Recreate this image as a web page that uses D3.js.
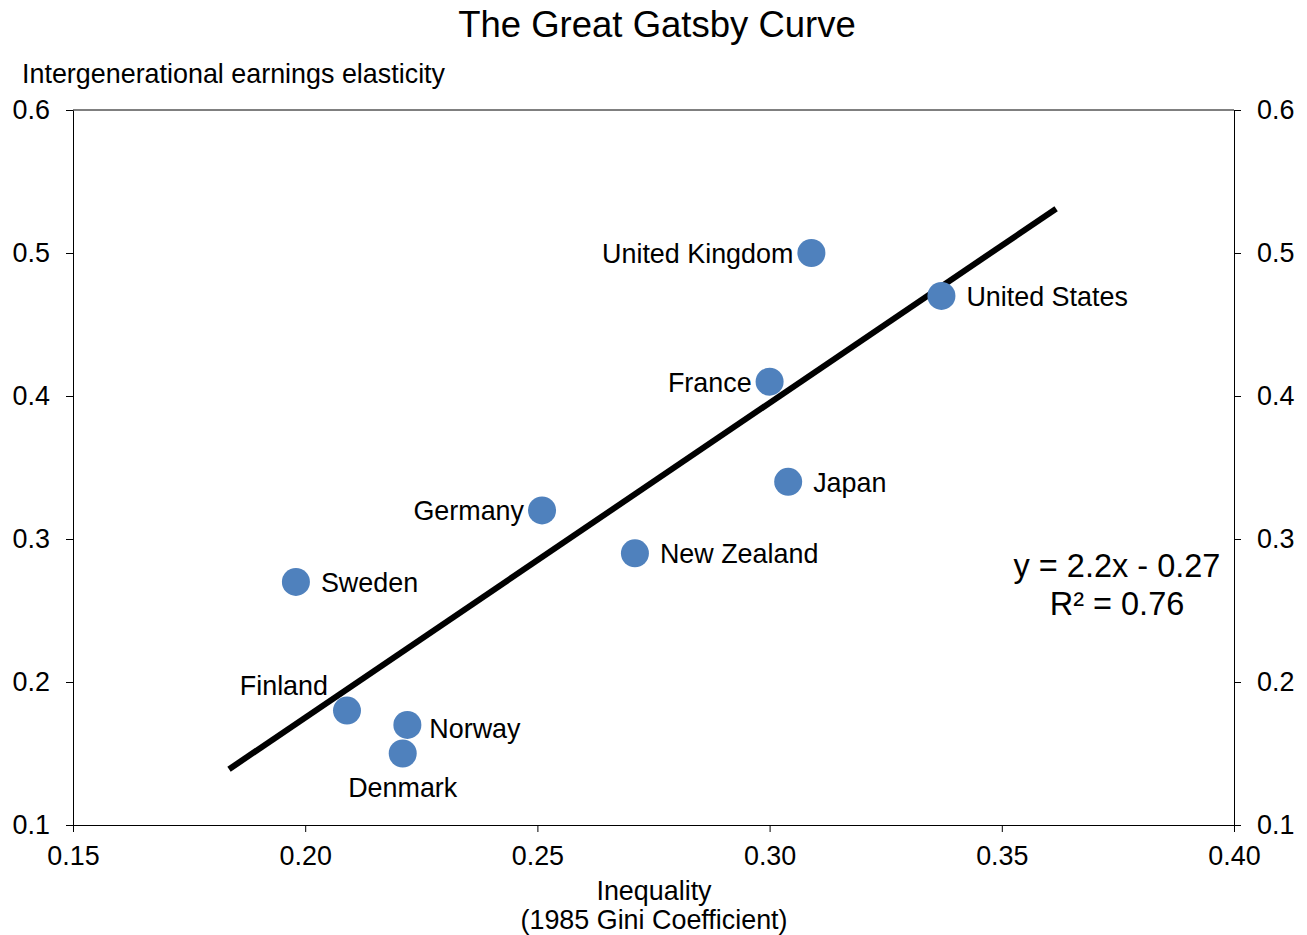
<!DOCTYPE html>
<html>
<head>
<meta charset="utf-8">
<script src="https://cdn.jsdelivr.net/npm/d3@7"></script>
<style>
  body { margin: 0; background: #fff; }
  svg text { font-family: "Liberation Sans", Arial, sans-serif; fill: #000; }
  .axis path, .axis line { stroke: #000; stroke-width: 1; }
</style>
</head>
<body>
<div id="chart"></div>
<script>
// Countries, Gini (x) and earnings elasticity (y)
var countries = ["United Kingdom", "United States", "France", "Japan", "Germany",
                 "New Zealand", "Sweden", "Finland", "Norway", "Denmark"];
var gini = [0.309, 0.337, 0.300, 0.304, 0.251, 0.271, 0.198, 0.209, 0.222, 0.221];
var elasticity = [0.50, 0.47, 0.41, 0.34, 0.32, 0.29, 0.27, 0.18, 0.17, 0.15];
// label placement: side of the marker
var labelSide = ["left", "right", "left", "right", "left", "right", "right", "upleft", "right", "below"];

// fitted line endpoints
var fitX = [0.1836, 0.3617];
var fitY = [0.139, 0.531];

var xTicks = [0.15, 0.20, 0.25, 0.30, 0.35, 0.40];
var yTicks = [0.1, 0.2, 0.3, 0.4, 0.5, 0.6];

var svg = d3.select("#chart").append("svg").attr("width", 1307).attr("height", 935),
    margin = {top: 110, right: 73, bottom: 110, left: 73},
    width = 1307 - margin.left - margin.right,
    height = 935 - margin.top - margin.bottom;

var x = d3.scaleLinear().domain([0.15, 0.40]).range([0, width]);
var y = d3.scaleLinear().domain([0.1, 0.6]).range([height, 0]);

var g = svg.append("g")
    .attr("transform", "translate(" + margin.left + "," + margin.top + ")");

svg.append("text")
    .attr("x", 657).attr("y", 37)
    .attr("text-anchor", "middle")
    .style("font-size", "36.5px")
    .text("The Great Gatsby Curve");

svg.append("text")
    .attr("x", 22).attr("y", 83)
    .style("font-size", "26.9px")
    .text("Intergenerational earnings elasticity");

// frame
g.append("line").attr("x1", 0).attr("x2", width).attr("y1", 0).attr("y2", 0)
    .attr("stroke", "#000").attr("stroke-width", 1);

g.append("g")
    .attr("class", "axis")
    .attr("transform", "translate(0," + height + ")")
    .call(d3.axisBottom(x).tickValues(xTicks).tickFormat(d3.format(".2f")).tickSize(7).tickSizeOuter(0))
    .call(function(a) { a.selectAll("text").style("font-size", "26.9px").attr("y", 16).attr("dy", "0.9em"); });

g.append("g")
    .attr("class", "axis")
    .call(d3.axisLeft(y).tickValues(yTicks).tickFormat(d3.format(".1f")).tickSize(7).tickSizeOuter(0))
    .call(function(a) { a.selectAll("text").style("font-size", "26.9px").attr("x", -23); });

g.append("g")
    .attr("class", "axis")
    .attr("transform", "translate(" + width + ",0)")
    .call(d3.axisRight(y).tickValues(yTicks).tickFormat(d3.format(".1f")).tickSize(7).tickSizeOuter(0))
    .call(function(a) { a.selectAll("text").style("font-size", "26.9px").attr("x", 23); });

g.selectAll(".domain").attr("stroke", "#000");

svg.append("text")
    .attr("x", 654).attr("y", 900)
    .attr("text-anchor", "middle")
    .style("font-size", "26.9px")
    .text("Inequality");
svg.append("text")
    .attr("x", 654).attr("y", 929)
    .attr("text-anchor", "middle")
    .style("font-size", "26.9px")
    .text("(1985 Gini Coefficient)");

// trend line
g.append("line")
    .attr("x1", x(fitX[0])).attr("y1", y(fitY[0]))
    .attr("x2", x(fitX[1])).attr("y2", y(fitY[1]))
    .attr("stroke", "#000").attr("stroke-width", 6);

var data = countries.map(function(c, i) {
  return {name: c, gini: gini[i], el: elasticity[i], side: labelSide[i]};
});

g.selectAll("circle.pt")
    .data(data)
  .enter().append("circle")
    .attr("class", "pt")
    .attr("cx", function(d) { return x(d.gini); })
    .attr("cy", function(d) { return y(d.el); })
    .attr("r", 14)
    .attr("fill", "#4F81BD");

g.selectAll("text.lbl")
    .data(data)
  .enter().append("text")
    .attr("class", "lbl")
    .style("font-size", "26.9px")
    .attr("x", function(d) {
      var cx = x(d.gini);
      if (d.side === "left") return cx - 18;
      if (d.side === "right") return cx + (d.name === "Norway" ? 22 : 25);
      if (d.side === "upleft") return cx - 19;
      return cx;
    })
    .attr("y", function(d) {
      var cy = y(d.el);
      if (d.side === "upleft") return cy - 16;
      if (d.side === "below") return cy + 43;
      if (d.name === "Norway") return cy + 13;
      return cy + 10;
    })
    .attr("text-anchor", function(d) {
      if (d.side === "left" || d.side === "upleft") return "end";
      if (d.side === "below") return "middle";
      return "start";
    })
    .text(function(d) { return d.name; });

// equation
g.append("text")
    .attr("x", 1044).attr("y", 467)
    .attr("text-anchor", "middle")
    .style("font-size", "32.5px")
    .text("y = 2.2x - 0.27");
g.append("text")
    .attr("x", 1044).attr("y", 505)
    .attr("text-anchor", "middle")
    .style("font-size", "32.5px")
    .text("R\u00B2 = 0.76");
</script>
</body>
</html>
